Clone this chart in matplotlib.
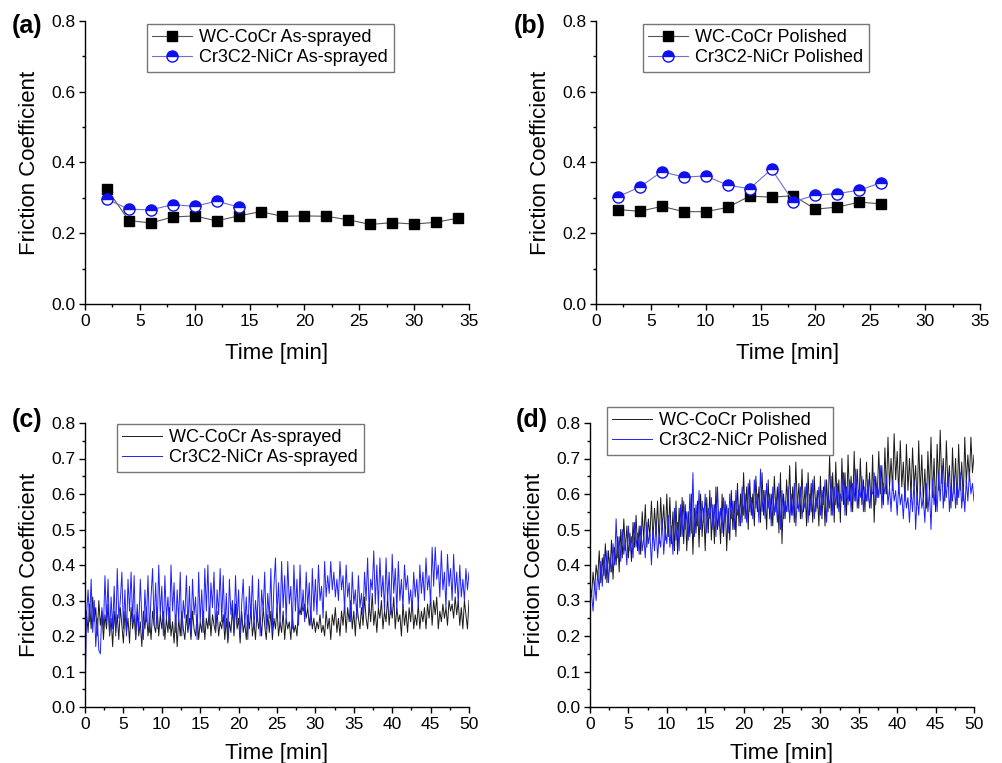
import numpy as np
import matplotlib
matplotlib.use('Agg')
from matplotlib import pyplot as plt
from matplotlib.ticker import MultipleLocator

plt.rcParams['font.family'] = ['Liberation Sans', 'DejaVu Sans']

# (a) / (b) point data, one value every 2 min
t_a = [2, 4, 6, 8, 10, 12, 14, 16, 18, 20, 22, 24, 26, 28, 30, 32, 34]
wc_sprayed = [0.325, 0.236, 0.229, 0.246, 0.249, 0.235, 0.249, 0.261, 0.248,
              0.249, 0.248, 0.238, 0.225, 0.230, 0.226, 0.231, 0.243]
t_a_cr = [2, 4, 6, 8, 10, 12, 14]
cr_sprayed = [0.296, 0.268, 0.266, 0.281, 0.276, 0.291, 0.274]

t_b = [2, 4, 6, 8, 10, 12, 14, 16, 18, 20, 22, 24, 26]
wc_polished = [0.267, 0.262, 0.276, 0.261, 0.261, 0.273, 0.305, 0.302, 0.306,
               0.268, 0.274, 0.288, 0.283]
cr_polished = [0.303, 0.331, 0.374, 0.359, 0.362, 0.336, 0.326, 0.381, 0.289,
               0.308, 0.312, 0.322, 0.343]

# (c) / (d) continuous records, sampled every 0.2 min (0 .. 50 min)
dt = 0.2
wc_sprayed_run = [
    0.25, 0.27, 0.21, 0.29, 0.22, 0.31, 0.24, 0.28, 0.20, 0.30,
    0.23, 0.27, 0.19, 0.26, 0.22, 0.29, 0.20, 0.25, 0.17, 0.27,
    0.21, 0.26, 0.19, 0.28, 0.23, 0.18, 0.27, 0.21, 0.25, 0.18,
    0.28, 0.22, 0.26, 0.19, 0.27, 0.20, 0.24, 0.17, 0.27, 0.22,
    0.28, 0.20, 0.25, 0.19, 0.27, 0.23, 0.21, 0.28, 0.20, 0.26,
    0.22, 0.27, 0.19, 0.25, 0.21, 0.28, 0.20, 0.24, 0.18, 0.26,
    0.17, 0.25, 0.20, 0.27, 0.22, 0.19, 0.26, 0.21, 0.25, 0.19,
    0.27, 0.22, 0.20, 0.26, 0.19, 0.24, 0.21, 0.27, 0.19, 0.25,
    0.22, 0.28, 0.20, 0.26, 0.23, 0.21, 0.27, 0.20, 0.24, 0.22,
    0.26, 0.19, 0.25, 0.18, 0.24, 0.21, 0.28, 0.20, 0.29, 0.22,
    0.25, 0.18, 0.27, 0.21, 0.24, 0.19, 0.26, 0.22, 0.28, 0.20,
    0.24, 0.19, 0.27, 0.22, 0.25, 0.20, 0.28, 0.23, 0.19, 0.26,
    0.21, 0.27, 0.19, 0.25, 0.22, 0.28, 0.20, 0.24, 0.21, 0.27,
    0.19, 0.25, 0.22, 0.24, 0.19, 0.26, 0.21, 0.23, 0.20, 0.28,
    0.26, 0.29, 0.27, 0.29, 0.25, 0.28, 0.23, 0.27, 0.22, 0.25,
    0.21, 0.24, 0.22, 0.26, 0.21, 0.23, 0.20, 0.27, 0.22, 0.25,
    0.19, 0.26, 0.23, 0.28, 0.21, 0.25, 0.20, 0.27, 0.23, 0.29,
    0.21, 0.28, 0.24, 0.30, 0.22, 0.27, 0.20, 0.29, 0.25, 0.22,
    0.28, 0.23, 0.31, 0.25, 0.22, 0.29, 0.24, 0.32, 0.23, 0.27,
    0.21, 0.28, 0.25, 0.30, 0.22, 0.27, 0.24, 0.31, 0.23, 0.29,
    0.25, 0.31, 0.22, 0.28, 0.24, 0.26, 0.20, 0.29, 0.23, 0.27,
    0.21, 0.28, 0.24, 0.30, 0.22, 0.26, 0.23, 0.29, 0.22, 0.27,
    0.24, 0.28, 0.22, 0.29, 0.25, 0.31, 0.23, 0.30, 0.26, 0.31,
    0.22, 0.27, 0.24, 0.29, 0.25, 0.28, 0.23, 0.30, 0.27, 0.29,
    0.25, 0.31, 0.26, 0.30, 0.23, 0.28, 0.22, 0.30, 0.26, 0.22,
    0.30]
cr_sprayed_run = [
    0.00, 0.26, 0.33, 0.24, 0.36, 0.21, 0.30, 0.17, 0.25, 0.16,
    0.15, 0.28, 0.22, 0.37, 0.24, 0.36, 0.20, 0.31, 0.22, 0.34,
    0.20, 0.39, 0.25, 0.30, 0.38, 0.22, 0.33, 0.20, 0.36, 0.27,
    0.38, 0.24, 0.37, 0.19, 0.29, 0.22, 0.36, 0.25, 0.19, 0.33,
    0.24, 0.37, 0.21, 0.31, 0.39, 0.23, 0.35, 0.22, 0.40, 0.26,
    0.34, 0.20, 0.37, 0.25, 0.31, 0.22, 0.40, 0.27, 0.35, 0.21,
    0.33, 0.24, 0.38, 0.20, 0.30, 0.25, 0.37, 0.22, 0.34, 0.20,
    0.36, 0.26, 0.31, 0.19, 0.38, 0.24, 0.33, 0.21, 0.39, 0.27,
    0.40, 0.23, 0.35, 0.28, 0.38, 0.21, 0.33, 0.26, 0.39, 0.24,
    0.37, 0.22, 0.32, 0.19, 0.36, 0.26, 0.30, 0.21, 0.37, 0.24,
    0.33, 0.20, 0.29, 0.36, 0.23, 0.31, 0.19, 0.34, 0.25, 0.37,
    0.22, 0.30, 0.24, 0.36, 0.20, 0.33, 0.27, 0.38, 0.22, 0.32,
    0.25, 0.39, 0.21, 0.34, 0.42, 0.26, 0.35, 0.23, 0.41, 0.28,
    0.37, 0.24, 0.41, 0.29, 0.34, 0.22, 0.40, 0.27, 0.36, 0.23,
    0.40, 0.26, 0.33, 0.24, 0.38, 0.28, 0.35, 0.23, 0.39, 0.27,
    0.36, 0.26, 0.40, 0.30, 0.34, 0.25, 0.41, 0.31, 0.37, 0.32,
    0.41, 0.33, 0.38, 0.31, 0.36, 0.30, 0.41, 0.33, 0.37, 0.27,
    0.40, 0.31, 0.35, 0.24, 0.38, 0.29, 0.33, 0.25, 0.37, 0.28,
    0.32, 0.26, 0.38, 0.30, 0.42, 0.27, 0.36, 0.33, 0.44, 0.29,
    0.40, 0.28, 0.42, 0.31, 0.37, 0.27, 0.42, 0.30, 0.38, 0.26,
    0.43, 0.32, 0.39, 0.27, 0.41, 0.30, 0.36, 0.28, 0.40, 0.33,
    0.37, 0.29, 0.33, 0.27, 0.38, 0.31, 0.36, 0.28, 0.40, 0.32,
    0.38, 0.30, 0.42, 0.33, 0.37, 0.29, 0.45, 0.34, 0.45, 0.36,
    0.40, 0.31, 0.44, 0.33, 0.38, 0.28, 0.43, 0.34, 0.39, 0.30,
    0.43, 0.32, 0.38, 0.29, 0.40, 0.31, 0.36, 0.30, 0.39, 0.33,
    0.38]
wc_polished_run = [
    0.35, 0.31, 0.38, 0.33, 0.40, 0.36, 0.44, 0.35, 0.42, 0.37,
    0.46, 0.35, 0.44, 0.38, 0.47, 0.36, 0.45, 0.40, 0.48, 0.38,
    0.50, 0.42, 0.53, 0.44, 0.51, 0.42, 0.49, 0.41, 0.52, 0.45,
    0.54, 0.44, 0.51, 0.43, 0.55, 0.47, 0.57, 0.45, 0.53, 0.48,
    0.58, 0.47, 0.56, 0.49, 0.58, 0.46, 0.59, 0.50, 0.57, 0.47,
    0.60, 0.48, 0.59, 0.46, 0.55, 0.44, 0.58, 0.43, 0.56, 0.48,
    0.59, 0.46, 0.57, 0.44, 0.55, 0.48, 0.60, 0.43, 0.56, 0.49,
    0.58, 0.45, 0.60, 0.48, 0.56, 0.44, 0.59, 0.49, 0.61, 0.47,
    0.57, 0.46, 0.62, 0.50, 0.55, 0.46, 0.60, 0.48, 0.58, 0.44,
    0.56, 0.47, 0.61, 0.50, 0.58, 0.48, 0.63, 0.51, 0.60, 0.52,
    0.66, 0.53, 0.62, 0.50, 0.64, 0.54, 0.60, 0.51, 0.65, 0.55,
    0.62, 0.52, 0.66, 0.54, 0.61, 0.50, 0.64, 0.53, 0.60, 0.51,
    0.65, 0.55, 0.62, 0.49, 0.66, 0.46, 0.60, 0.53, 0.64, 0.55,
    0.68, 0.54, 0.62, 0.52, 0.69, 0.56, 0.63, 0.53, 0.67, 0.55,
    0.62, 0.51, 0.66, 0.54, 0.63, 0.52, 0.65, 0.55, 0.61, 0.51,
    0.65, 0.53, 0.62, 0.51, 0.64, 0.55, 0.71, 0.54, 0.66, 0.52,
    0.69, 0.56, 0.64, 0.52, 0.70, 0.57, 0.66, 0.54, 0.71, 0.58,
    0.65, 0.55, 0.72, 0.58, 0.67, 0.56, 0.70, 0.57, 0.64, 0.55,
    0.69, 0.58, 0.66, 0.56, 0.71, 0.52, 0.65, 0.59, 0.72, 0.60,
    0.68, 0.57, 0.73, 0.60, 0.76, 0.62, 0.70, 0.61, 0.77, 0.64,
    0.72, 0.60, 0.75, 0.62, 0.69, 0.58, 0.74, 0.61, 0.70, 0.59,
    0.73, 0.62, 0.68, 0.57, 0.75, 0.60, 0.71, 0.58, 0.67, 0.56,
    0.72, 0.60, 0.76, 0.59, 0.70, 0.55, 0.74, 0.61, 0.78, 0.63,
    0.70, 0.58, 0.75, 0.62, 0.68, 0.56, 0.73, 0.60, 0.70, 0.57,
    0.74, 0.61, 0.69, 0.58, 0.76, 0.63, 0.71, 0.64, 0.76, 0.66,
    0.71]
cr_polished_run = [
    0.31, 0.32, 0.27, 0.35, 0.30, 0.38, 0.33, 0.41, 0.34, 0.43,
    0.36, 0.44, 0.35, 0.42, 0.38, 0.46, 0.40, 0.53, 0.42, 0.48,
    0.41, 0.50, 0.43, 0.47, 0.40, 0.51, 0.44, 0.48, 0.42, 0.52,
    0.45, 0.49, 0.43, 0.51, 0.44, 0.48, 0.42, 0.52, 0.46, 0.49,
    0.40, 0.50, 0.44, 0.52, 0.42, 0.48, 0.45, 0.53, 0.43, 0.50,
    0.46, 0.54, 0.45, 0.51, 0.43, 0.56, 0.47, 0.52, 0.44, 0.57,
    0.48, 0.58, 0.50, 0.55, 0.47, 0.60, 0.49, 0.66, 0.48, 0.57,
    0.51, 0.61, 0.50, 0.58, 0.52, 0.60, 0.49, 0.56, 0.53, 0.59,
    0.50, 0.57, 0.48, 0.62, 0.51, 0.56, 0.49, 0.59, 0.52, 0.57,
    0.49, 0.60, 0.53, 0.58, 0.50, 0.61, 0.54, 0.57, 0.51, 0.62,
    0.54, 0.60, 0.52, 0.63, 0.55, 0.59, 0.53, 0.64, 0.56, 0.60,
    0.52, 0.67, 0.55, 0.61, 0.53, 0.63, 0.56, 0.60, 0.51, 0.62,
    0.54, 0.59, 0.52, 0.63, 0.50, 0.61, 0.53, 0.58, 0.55, 0.62,
    0.52, 0.60, 0.54, 0.63, 0.51, 0.59, 0.55, 0.62, 0.53, 0.58,
    0.56, 0.63, 0.52, 0.60, 0.55, 0.64, 0.53, 0.59, 0.56, 0.62,
    0.54, 0.61, 0.57, 0.64, 0.52, 0.60, 0.56, 0.65, 0.54, 0.62,
    0.57, 0.63, 0.55, 0.60, 0.58, 0.66, 0.54, 0.62, 0.57, 0.64,
    0.55, 0.63, 0.58, 0.67, 0.56, 0.61, 0.59, 0.65, 0.55, 0.62,
    0.58, 0.64, 0.56, 0.61, 0.60, 0.66, 0.57, 0.63, 0.59, 0.68,
    0.56, 0.63, 0.60, 0.65, 0.57, 0.62, 0.55, 0.64, 0.58, 0.61,
    0.54, 0.63, 0.57, 0.60, 0.53, 0.62, 0.56, 0.59, 0.52, 0.61,
    0.55, 0.64, 0.50, 0.60, 0.54, 0.62, 0.56, 0.59, 0.52, 0.63,
    0.55, 0.61, 0.50, 0.64, 0.57, 0.62, 0.55, 0.66, 0.58, 0.68,
    0.56, 0.63, 0.59, 0.66, 0.55, 0.62, 0.58, 0.65, 0.56, 0.63,
    0.59, 0.66, 0.56, 0.62, 0.55, 0.64, 0.58, 0.66, 0.60, 0.63,
    0.58]

W, H = 1003, 763
fig = plt.figure(figsize=(W / 100, H / 100), dpi=100)


def px_axes(x0, y0, x1, y1):
    return fig.add_axes([x0 / W, 1 - y1 / H, (x1 - x0) / W, (y1 - y0) / H])


def style(ax, xmax, ymaj, ymin, xpad):
    ax.spines['top'].set_visible(False)
    ax.spines['right'].set_visible(False)
    for s in ('left', 'bottom'):
        ax.spines[s].set_linewidth(1.0)
    ax.set_xlim(0, xmax)
    ax.set_ylim(0, 0.8)
    ax.xaxis.set_major_locator(MultipleLocator(5))
    ax.xaxis.set_minor_locator(MultipleLocator(2.5))
    ax.yaxis.set_major_locator(MultipleLocator(ymaj))
    ax.yaxis.set_minor_locator(MultipleLocator(ymin))
    ax.yaxis.set_major_formatter(lambda v, p: '%.1f' % v)
    ax.tick_params(which='major', direction='out', length=4.5, width=1.0,
                   labelsize=12.5, pad=2.5)
    ax.tick_params(which='minor', direction='out', length=2.5, width=1.0)
    ax.set_xlabel('Time [min]', fontsize=16, labelpad=xpad)
    ax.set_ylabel('Friction Coefficient', fontsize=16, labelpad=8)


def legend(ax, x0, y0):
    leg = ax.legend(loc='upper left', bbox_to_anchor=(x0 / W, 1 - y0 / H),
                    bbox_transform=fig.transFigure, fontsize=13, frameon=True,
                    fancybox=False, framealpha=1, edgecolor='#777777',
                    handlelength=2.2, handletextpad=0.4, borderpad=0.3,
                    labelspacing=0.15, borderaxespad=0)
    leg.get_frame().set_linewidth(1.0)


def points(ax, x, y_wc, x_cr, y_cr, labels):
    ax.plot(x, y_wc, color='#555555', lw=0.8, marker='s', ms=7.5,
            mfc='black', mec='black', label=labels[0])
    ax.plot(x_cr, y_cr, color='#6f6fc8', lw=0.8, marker='o', ms=8,
            fillstyle='top', mfc='#1010ee', mfcalt='white', mec='#1010ee',
            mew=1.0, label=labels[1])


# (a)
ax_a = px_axes(85, 21, 469, 304)
points(ax_a, t_a, wc_sprayed, t_a_cr, cr_sprayed,
       ['WC-CoCr As-sprayed', 'Cr3C2-NiCr As-sprayed'])
style(ax_a, 35, 0.2, 0.1, 10)
legend(ax_a, 147, 24)

# (b)
ax_b = px_axes(596, 21, 980, 304)
points(ax_b, t_b, wc_polished, t_b, cr_polished,
       ['WC-CoCr Polished', 'Cr3C2-NiCr Polished'])
style(ax_b, 35, 0.2, 0.1, 10)
legend(ax_b, 643, 24)

# (c)
t_run = np.arange(len(wc_sprayed_run)) * dt
ax_c = px_axes(85, 423, 469, 707)
ax_c.plot(t_run, wc_sprayed_run, color='#1a1a1a', lw=0.7, label='WC-CoCr As-sprayed')
ax_c.plot(t_run, cr_sprayed_run, color='#1f1fff', lw=0.7, label='Cr3C2-NiCr As-sprayed')
style(ax_c, 50, 0.1, 0.05, 8)
legend(ax_c, 117, 424)

# (d)
ax_d = px_axes(590, 423, 974, 707)
ax_d.plot(t_run, wc_polished_run, color='#1a1a1a', lw=0.7, label='WC-CoCr Polished')
ax_d.plot(t_run, cr_polished_run, color='#1f1fff', lw=0.7, label='Cr3C2-NiCr Polished')
style(ax_d, 50, 0.1, 0.05, 8)
legend(ax_d, 607, 407)

for lab, x, y in [('(a)', 12, 26), ('(b)', 514, 26), ('(c)', 12, 420), ('(d)', 516, 420)]:
    fig.text(x / W, 1 - y / H, lab, fontsize=18, fontweight='bold',
             ha='left', va='center')

fig.savefig('out.png', dpi=100)
